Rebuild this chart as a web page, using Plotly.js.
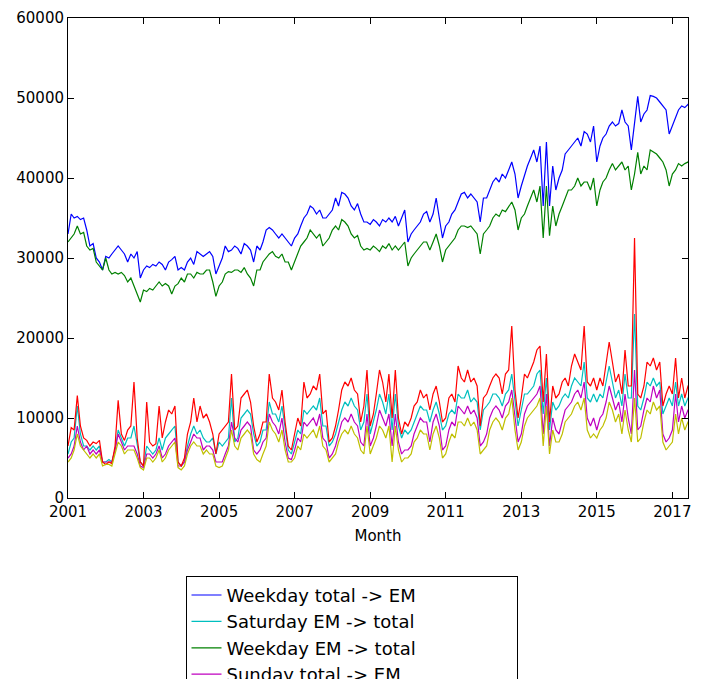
<!DOCTYPE html>
<html>
<head>
<meta charset="utf-8">
<script src="https://cdn.plot.ly/plotly-3.0.1.min.js"></script>
<style>body{margin:0;background:#fff}#chart{width:703px;height:679px}</style>
</head>
<body>
<div id="chart"></div>
<script>
// monthly values in thousands, Jan 2001 .. Oct 2017
var weekdayTotalToEM = [
33.0,35.5,35.0,35.2,34.8,35.0,33.5,31.5,31.8,30.0,29.5,28.5,
30.2,30.0,30.5,31.0,31.5,31.0,30.5,29.5,30.5,30.0,30.8,27.5,
28.5,29.0,28.8,29.2,29.0,29.5,29.2,28.5,29.5,29.8,30.2,28.5,
28.8,28.5,29.5,30.0,29.2,30.8,30.5,30.2,30.5,30.8,30.2,28.0,
29.0,30.0,31.5,30.8,31.0,31.5,31.2,30.5,31.8,31.5,31.0,29.5,
31.5,31.0,32.0,33.5,33.8,33.5,33.0,32.5,33.0,32.5,32.0,31.5,
32.5,33.0,34.0,35.0,35.5,36.5,36.2,35.5,36.0,35.0,35.0,35.5,
36.0,37.5,36.5,38.2,38.0,37.5,36.5,36.0,36.8,35.5,34.5,34.5,
34.2,34.8,34.5,34.0,34.8,34.5,35.0,34.5,35.2,34.0,35.0,36.0,
32.0,33.0,33.5,34.0,34.5,35.5,35.8,34.5,35.5,37.5,35.0,32.5,
34.0,34.5,35.5,36.0,37.0,38.0,38.2,37.5,38.0,37.5,37.0,34.5,
37.5,37.5,38.5,39.5,40.0,39.5,40.5,40.0,41.0,42.0,40.5,37.5,
39.0,40.5,41.5,42.5,43.5,42.0,44.0,36.5,44.5,36.5,41.5,38.5,
40.0,41.0,43.0,43.5,44.0,44.5,45.0,44.0,45.8,45.5,44.5,46.5,
42.0,44.0,45.0,45.5,46.5,47.0,46.5,46.8,48.5,47.0,46.5,43.5,
46.5,50.2,47.0,48.0,48.5,50.3,50.2,50.0,49.5,49.0,48.5,45.5,
46.5,47.5,48.5,49.0,48.8,49.2,48.5,48.8,49.0,49.2];
var weekdayEMToTotal = [
32.0,32.5,33.0,34.0,33.0,33.2,31.5,31.0,31.2,29.5,29.0,28.5,
30.0,28.5,28.0,28.2,28.0,28.2,27.8,27.0,27.5,26.5,25.5,24.5,
26.0,25.8,26.2,26.0,26.5,27.0,26.5,26.8,26.5,25.5,26.5,26.8,
27.5,27.0,28.0,28.0,27.5,28.2,28.0,28.0,28.5,28.5,27.0,25.2,
26.5,27.0,28.0,28.3,28.2,28.5,28.5,28.2,28.8,28.0,27.5,26.5,
28.5,28.5,29.5,30.0,30.5,30.8,30.2,30.0,30.5,29.5,29.5,28.5,
29.5,30.5,31.5,32.0,32.5,33.5,33.0,32.5,33.0,31.5,32.0,32.5,
33.5,34.0,33.5,34.8,34.5,34.0,33.0,32.5,32.8,31.5,31.0,31.2,
31.0,31.5,31.2,30.8,31.5,31.2,31.8,31.0,31.5,31.0,31.5,32.0,
29.0,30.0,30.5,31.0,31.5,32.0,32.0,31.0,32.0,33.0,31.5,29.5,
31.0,31.5,32.0,32.5,33.5,34.0,34.0,33.8,34.0,33.5,33.0,30.5,
33.0,33.5,34.0,35.0,35.5,35.2,36.0,35.8,36.5,37.0,36.0,33.5,
35.0,35.5,36.5,37.5,38.5,37.0,39.0,32.5,39.0,32.8,36.5,34.0,
35.5,36.5,37.5,38.5,38.5,39.0,40.0,39.0,39.5,39.5,38.5,40.0,
36.5,38.5,39.5,40.0,41.0,41.8,41.0,41.5,42.0,41.0,41.5,38.5,
40.5,43.2,40.5,41.5,41.0,43.5,43.2,43.0,42.5,42.0,41.0,39.0,
40.5,41.0,41.8,41.5,41.8,42.0,41.5,41.8,41.8,42.2];
var saturdayTotalToEM = [
6.5,8.8,8.5,12.8,9.0,7.5,7.2,6.5,7.0,6.8,7.2,4.5,
4.2,4.5,4.3,6.5,12.2,8.0,7.2,8.5,9.0,14.5,7.5,4.5,
4.0,12.0,7.0,6.5,6.8,11.5,7.5,9.5,11.0,10.5,11.5,4.5,
4.0,5.0,8.0,9.5,12.5,9.5,11.5,10.0,10.5,9.5,8.0,5.5,
8.0,8.5,9.0,9.5,15.5,8.5,9.0,12.5,13.0,13.5,12.0,9.0,
7.0,8.0,9.5,9.5,15.5,12.5,12.0,11.0,13.5,9.5,6.5,6.0,
8.0,10.0,9.0,14.5,12.5,13.0,14.0,13.5,15.5,10.5,11.0,7.0,
7.5,9.0,11.0,13.5,14.5,14.0,15.0,13.5,13.0,9.5,11.5,16.0,
9.0,10.5,13.0,16.0,14.5,12.0,15.5,10.0,16.0,10.0,8.0,9.5,
9.0,10.0,11.5,12.0,13.5,12.5,13.0,11.0,13.0,14.0,12.0,9.5,
10.0,12.5,13.0,12.0,16.5,15.0,14.5,16.0,14.5,15.0,14.0,9.0,
12.5,13.0,14.0,15.0,15.5,15.0,13.0,15.5,16.0,21.5,13.5,10.0,
12.5,15.5,15.0,16.0,17.0,18.5,19.0,12.0,18.0,9.5,14.0,12.5,
13.0,14.5,15.0,14.0,16.5,18.0,17.0,16.0,21.5,14.5,14.0,15.0,
13.5,15.0,14.0,17.0,19.5,17.0,14.5,15.5,13.0,18.5,14.0,14.0,
32.5,13.0,12.5,14.0,17.0,16.5,17.5,16.0,17.0,11.5,13.0,14.0,
13.0,17.5,12.5,15.0,12.5,14.0,14.5,15.0,14.0,15.5];
var saturdayEMToTotal = [
5.5,7.0,7.5,11.5,8.0,6.5,6.5,6.0,6.5,6.0,6.5,4.5,
4.5,4.8,4.5,6.0,8.5,7.5,6.5,7.5,7.5,9.0,6.5,4.5,
4.0,6.5,6.0,5.5,6.0,7.5,6.0,7.5,8.0,8.5,9.0,4.5,
4.0,4.5,6.5,8.0,9.0,8.0,8.5,7.5,7.0,7.0,7.5,5.5,
7.0,6.5,7.0,7.5,12.5,7.0,7.5,10.0,10.5,11.0,10.5,8.0,
6.5,7.0,8.5,8.5,12.0,10.5,10.5,9.5,11.5,8.5,6.0,5.5,
7.0,8.5,8.0,11.0,10.5,11.0,11.5,11.0,12.5,9.0,9.0,6.5,
7.0,8.0,9.5,11.0,12.0,11.5,12.5,11.5,11.0,8.5,9.5,13.0,
8.0,9.5,11.0,13.0,12.0,10.5,13.0,8.5,13.0,9.0,7.5,8.5,
8.0,8.5,9.5,10.5,11.5,11.0,11.0,9.5,11.0,12.0,10.5,8.5,
9.0,10.5,11.0,10.5,13.0,12.5,12.5,13.5,12.0,12.5,12.0,8.5,
11.0,11.5,12.0,13.0,13.0,12.5,11.5,13.0,13.5,15.5,12.0,9.0,
11.0,13.0,13.0,13.5,14.0,15.5,16.0,10.5,15.0,8.5,12.0,11.0,
11.5,12.5,13.0,12.5,14.0,15.0,14.5,14.0,17.0,12.5,12.0,13.0,
12.0,13.0,12.5,14.5,16.5,14.5,12.5,13.5,11.5,15.5,12.5,12.5,
23.0,11.5,11.0,12.5,14.5,14.0,15.0,14.0,14.5,10.5,11.5,12.5,
11.5,14.5,11.5,13.0,11.5,12.5,13.0,13.5,12.5,13.5];
var sundayTotalToEM = [
5.0,5.5,6.5,9.0,7.0,6.0,6.5,5.5,6.0,5.5,6.0,4.5,
4.5,4.5,4.5,6.0,8.0,7.0,6.0,6.5,6.5,6.5,5.5,4.0,
3.8,5.5,5.5,5.0,5.5,6.5,5.0,5.5,6.5,7.0,7.5,4.0,
4.0,4.5,6.0,7.0,8.0,7.5,7.5,6.0,6.5,6.5,6.0,4.5,
4.5,4.5,5.5,6.5,9.5,7.5,7.0,8.5,9.0,9.5,9.0,6.0,
5.5,6.0,7.0,7.5,10.5,9.5,9.0,8.0,10.0,7.0,5.0,4.8,
6.0,7.5,7.0,9.5,9.0,9.5,10.0,9.0,10.5,7.5,7.0,5.0,
5.5,6.5,8.0,9.5,10.0,9.5,10.5,9.5,9.0,7.0,6.5,10.5,
6.5,7.5,9.0,11.0,10.0,9.0,10.5,6.5,10.5,7.0,5.5,6.0,
6.0,6.5,8.0,9.0,10.0,9.5,9.5,7.0,9.5,10.5,9.0,6.0,
6.5,8.5,9.5,9.0,11.5,11.0,10.5,11.5,10.5,11.0,10.0,6.5,
7.0,8.0,10.0,11.0,11.5,11.0,10.0,11.5,12.0,13.5,10.0,7.0,
8.0,10.5,11.5,12.0,12.5,13.0,14.0,8.0,13.0,6.5,10.0,8.5,
8.0,9.5,11.0,11.5,12.0,13.0,13.5,12.5,14.5,10.0,9.0,10.0,
8.5,10.0,10.5,12.0,14.0,12.5,11.0,12.0,9.5,13.0,10.0,8.0,
16.0,8.5,9.0,11.0,12.5,12.0,14.0,12.5,13.5,8.0,7.0,7.5,
8.5,13.0,9.5,11.5,10.0,11.0,11.5,12.0,11.0,12.5];
var sundayEMToTotal = [
4.5,5.0,6.0,8.0,6.5,6.0,5.5,5.0,5.5,5.0,5.5,4.0,
4.2,4.2,4.0,5.5,7.0,6.5,5.5,6.0,6.0,6.0,5.0,3.8,
3.5,5.0,5.0,4.5,5.0,6.0,4.5,5.0,6.0,6.5,7.0,3.8,
3.5,4.0,5.5,6.5,7.0,6.5,6.5,5.5,6.0,5.5,5.5,4.0,
3.8,4.0,5.0,6.0,8.5,6.5,6.0,7.5,8.0,8.5,8.0,5.5,
4.8,4.5,5.5,6.5,9.5,8.5,8.0,7.0,8.5,6.0,4.5,4.5,
5.0,6.5,6.0,8.0,7.5,8.0,8.5,7.5,9.0,6.5,6.0,4.5,
5.0,5.5,7.0,8.0,8.5,8.0,9.0,8.0,7.5,6.0,5.5,9.0,
5.5,6.5,7.5,9.0,8.5,7.5,9.0,4.5,9.0,6.0,4.5,5.0,
5.0,5.5,7.0,7.5,8.5,8.0,8.0,6.0,8.0,9.0,7.5,5.0,
5.5,7.0,8.0,7.5,9.5,9.5,9.0,10.0,9.0,9.5,8.5,5.5,
6.0,6.5,8.5,9.5,10.0,9.5,8.5,10.0,10.5,12.5,8.5,6.0,
7.0,9.0,10.0,10.5,11.0,11.5,12.5,6.5,11.5,5.5,8.5,7.0,
7.0,8.0,9.5,10.0,10.5,11.5,12.0,11.0,12.5,8.5,7.5,8.0,
7.5,8.5,9.0,10.0,12.0,11.0,9.5,10.5,8.0,11.0,8.5,7.0,
12.5,7.0,7.5,9.5,11.0,10.5,12.0,11.0,11.5,7.0,6.0,6.5,
7.0,10.5,8.0,10.0,8.5,9.5,10.0,10.5,9.5,10.0];

var months = [];
for (var i = 0; i < weekdayTotalToEM.length; i++) {
  var y = 2001 + Math.floor(i / 12), m = (i % 12) + 1;
  months.push(y + '-' + (m < 10 ? '0' + m : m) + '-01');
}
var tickYears = ['2001','2003','2005','2007','2009','2011','2013','2015','2017'];

// legend fills row by row, so order to match the two columns
var series = [
  ['Weekday total -> EM', weekdayTotalToEM, '#0000ff'],
  ['Saturday EM -> total', saturdayEMToTotal, '#00bfbf'],
  ['Weekday EM -> total', weekdayEMToTotal, '#008000'],
  ['Sunday total -> EM', sundayTotalToEM, '#bf00bf'],
  ['Saturday total -> EM', saturdayTotalToEM, '#ff0000'],
  ['Sunday EM -> total', sundayEMToTotal, '#bfbf00']
];
var data = series.map(function(s) {
  return {x: months, y: s[1].map(function(v) { return v * 1000; }),
    name: s[0], type: 'scatter', mode: 'lines', line: {color: s[2], width: 1.2}};
});

var axis = {showgrid: false, zeroline: false, showline: true, mirror: 'ticks',
  linecolor: '#000', linewidth: 1, ticks: 'inside', ticklen: 6, tickcolor: '#000',
  tickfont: {size: 15, color: '#000'}, automargin: false};

Plotly.newPlot('chart', data, {
  width: 703, height: 679,
  margin: {l: 68, r: 15, t: 18, b: 181},
  paper_bgcolor: '#fff', plot_bgcolor: '#fff',
  font: {family: 'DejaVu Sans', color: '#000'},
  xaxis: Object.assign({}, axis, {type: 'date', range: ['2001-01-01', '2017-06-01'],
    tickvals: tickYears.map(function(t) { return t + '-01-01'; }), ticktext: tickYears,
    title: {text: 'Month', font: {size: 15}, standoff: 10}}),
  yaxis: Object.assign({}, axis, {range: [0, 60000], dtick: 10000, tickformat: 'd'}),
  showlegend: true,
  legend: {orientation: 'h', x: 0.5, xanchor: 'center', xref: 'container',
    yref: 'container', y: 0.152, yanchor: 'top',
    entrywidth: 285, entrywidthmode: 'pixels', font: {size: 18},
    bordercolor: '#000', borderwidth: 1, bgcolor: '#fff'}
}, {displayModeBar: false});
</script>
</body>
</html>
